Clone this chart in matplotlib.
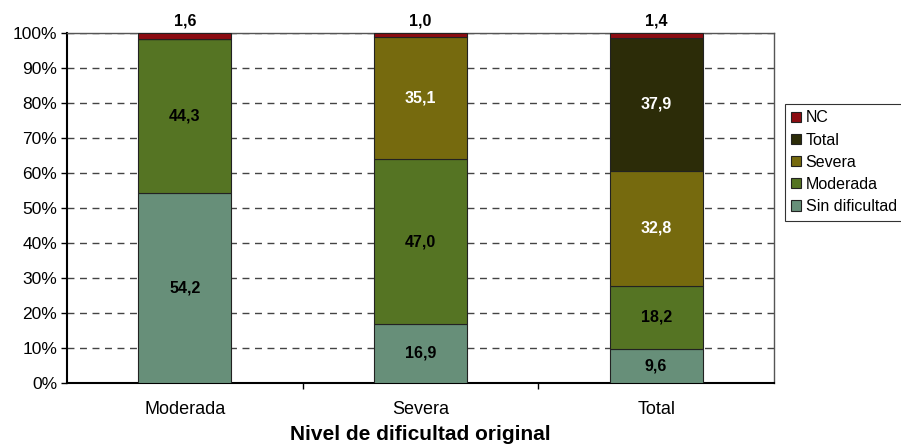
import numpy as np
import matplotlib.pyplot as plt
from matplotlib.ticker import FuncFormatter

plt.rcParams['font.family'] = ['Liberation Sans', 'DejaVu Sans']

categorias = ['Moderada', 'Severa', 'Total']
series = ['Sin dificultad', 'Moderada', 'Severa', 'Total', 'NC']
sin_dificultad = [54.2, 16.9, 9.6]
moderada = [44.3, 47.0, 18.2]
severa = [0.0, 35.1, 32.8]
total = [0.0, 0.0, 37.9]
nc = [1.6, 1.0, 1.4]
colores = ['#678f79', '#557423', '#766a0e', '#2c2c08', '#8c0c12']
# color of the label drawn inside each segment
color_texto = ['black', 'black', 'white', 'white', 'black']

datos = np.array([sin_dificultad, moderada, severa, total, nc])
pct = datos / datos.sum(axis=0) * 100

fig = plt.figure(figsize=(9.01, 4.47), dpi=100)
ax = fig.add_axes([67 / 901, 1 - 383 / 447, 707 / 901, 350 / 447])

x = np.arange(len(categorias))
base = np.zeros(len(categorias))
for i, nombre in enumerate(series):
    ax.bar(x, pct[i], 0.395, bottom=base, color=colores[i],
           edgecolor='#222222', linewidth=0.8, label=nombre, zorder=3)
    for j in range(len(categorias)):
        if datos[i, j] == 0:
            continue
        txt = f'{datos[i, j]:.1f}'.replace('.', ',')
        if nombre == 'NC':
            ax.text(x[j], 101.3, txt, ha='center', va='bottom',
                    fontsize=11.5, fontweight='bold', clip_on=False)
        else:
            ax.text(x[j], base[j] + pct[i, j] / 2, txt, ha='center',
                    va='center', fontsize=11.5, fontweight='bold',
                    color=color_texto[i], zorder=4)
    base = base + pct[i]

ax.set_xlim(-0.5, 2.5)
ax.set_ylim(0, 100)
ax.set_yticks(np.arange(0, 101, 10))
ax.yaxis.set_major_formatter(FuncFormatter(lambda v, p: f'{v:.0f}%'))
ax.set_xticks(x)
ax.set_xticklabels(categorias, fontsize=13)
ax.set_xticks([0.5, 1.5], minor=True)
ax.tick_params(axis='x', which='major', length=0, pad=13)
ax.tick_params(axis='x', which='minor', length=4, direction='out', width=1)
ax.tick_params(axis='y', length=4, direction='out', labelsize=12.5, width=1,
               pad=3)
ax.grid(axis='y', linestyle=(0, (5, 4)), color='#444444', linewidth=1, zorder=0)
for s in ['left', 'bottom']:
    ax.spines[s].set_linewidth(1.5)
    ax.spines[s].set_color('black')
for s in ['top', 'right']:
    ax.spines[s].set_linewidth(1)
    ax.spines[s].set_color('#555555')
ax.set_xlabel('Nivel de dificultad original', fontsize=15, fontweight='bold',
              labelpad=5)

h, l = ax.get_legend_handles_labels()
leg = fig.legend(h[::-1], l[::-1], loc='upper left',
                 bbox_to_anchor=(785 / 901, 1 - 104 / 447), fontsize=11.5,
                 frameon=True, fancybox=False, edgecolor='black',
                 borderpad=0.4, labelspacing=0.45, handlelength=0.6,
                 handleheight=0.6, handletextpad=0.3, borderaxespad=0)
leg.get_frame().set_linewidth(0.8)

fig.savefig('out.png', dpi=100)
